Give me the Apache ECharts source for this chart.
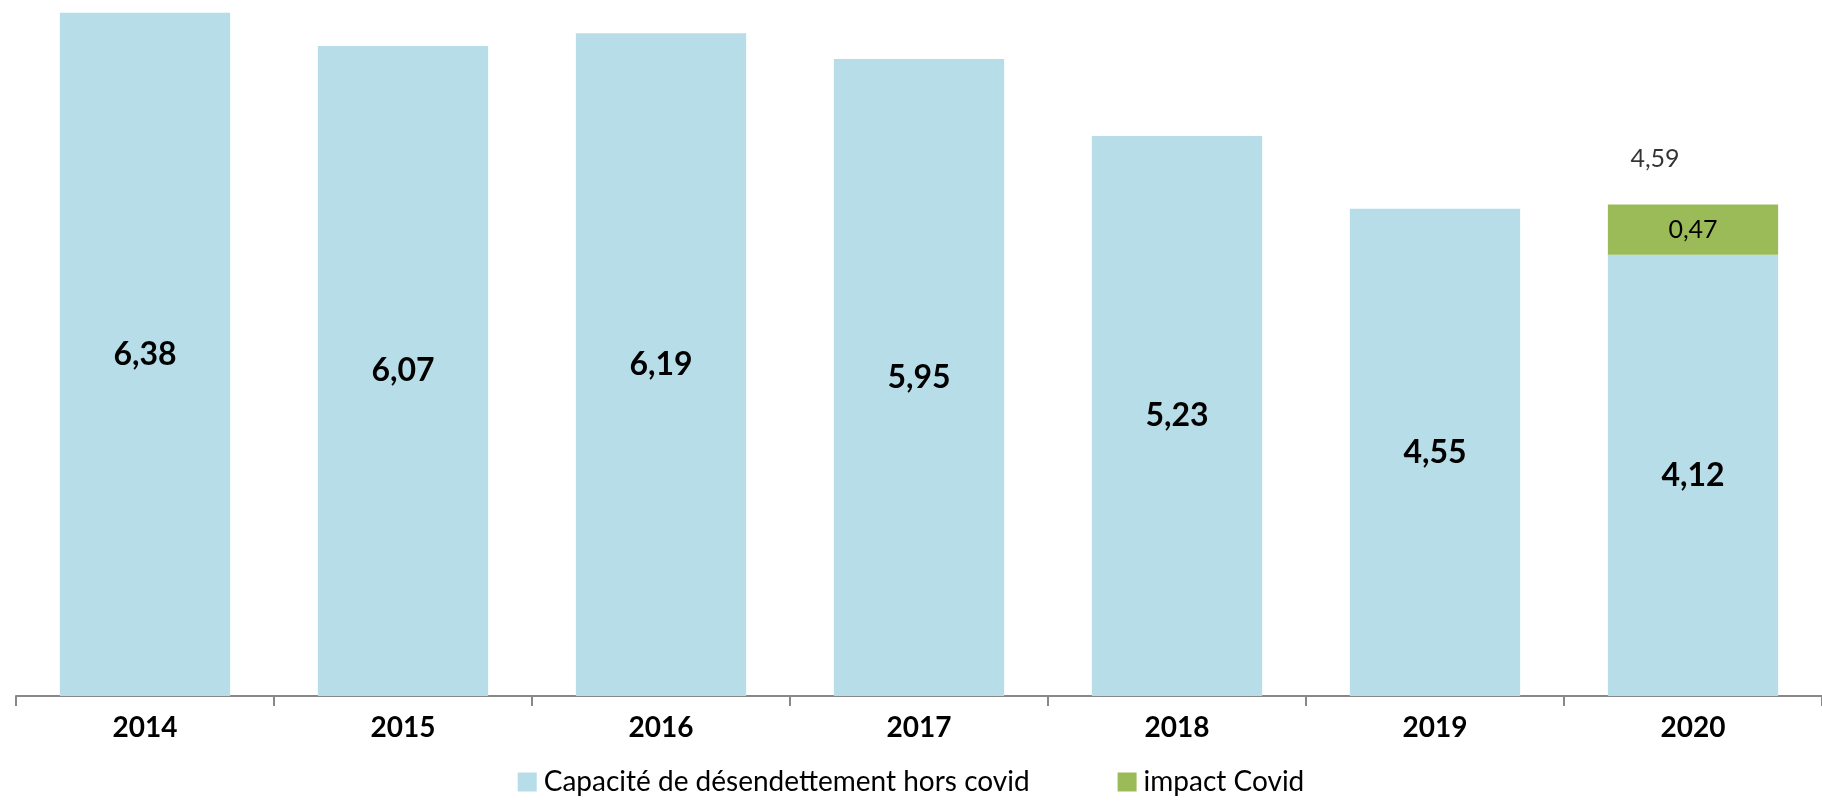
<!DOCTYPE html>
<html>
<head>
<meta charset="utf-8">
<script src="https://cdn.jsdelivr.net/npm/echarts@6/dist/echarts.min.js"></script>
<style>
  html, body { margin: 0; padding: 0; background: #fff; }
  #chart { width: 1822px; height: 803px; }
</style>
</head>
<body>
<div id="chart"></div>
<script>
var years = ['2014', '2015', '2016', '2017', '2018', '2019', '2020']
var horsCovid = [6.38, 6.07, 6.19, 5.95, 5.23, 4.55, 4.12]
var impactCovid = [null, null, null, null, null, null, 0.47]
var totals = [null, null, null, null, null, null, 4.59]

function fr(v) {
  return v.toFixed(2).replace('.', ',')
}

var font = 'Lato, "Open Sans", sans-serif'

var option = {
  animation: false,
  textStyle: { fontFamily: font },
  grid: {
    left: 16,
    right: 0,
    top: 0,
    bottom: 107
  },
  legend: {
    bottom: 2,
    left: 'center',
    itemWidth: 19,
    itemHeight: 19,
    itemGap: 88,
    icon: 'rect',
    textStyle: { fontSize: 28, color: '#000', fontFamily: font, padding: [0, 0, 0, 2] },
    data: ['Capacité de désendettement hors covid', 'impact Covid']
  },
  xAxis: {
    type: 'category',
    data: years,
    axisLine: { show: true, lineStyle: { color: '#888', width: 2 } },
    axisTick: { show: true, interval: 0, length: 10, lineStyle: { color: '#888', width: 2 } },
    axisLabel: {
      color: '#000',
      fontWeight: 'bold',
      fontSize: 28,
      margin: 18,
      fontFamily: font
    }
  },
  yAxis: {
    type: 'value',
    min: 0,
    max: 6.5,
    show: false,
    splitLine: { show: false }
  },
  series: [
    {
      name: 'Capacité de désendettement hors covid',
      type: 'bar',
      stack: 'total',
      data: horsCovid,
      barCategoryGap: '34%',
      itemStyle: { color: '#B7DDE8' },
      label: {
        show: true,
        position: 'inside',
        color: '#000',
        fontWeight: 'bold',
        fontSize: 32,
        fontFamily: font,
        formatter: function(p) { return fr(p.value) }
      }
    },
    {
      name: 'impact Covid',
      type: 'bar',
      stack: 'total',
      data: impactCovid,
      itemStyle: { color: '#9BBB59' },
      label: {
        show: true,
        position: 'inside',
        color: '#000',
        fontSize: 25,
        fontFamily: font,
        formatter: function(p) { return fr(p.value) }
      }
    },
    {
      name: 'total',
      type: 'scatter',
      data: totals,
      symbolSize: 0,
      silent: true,
      label: {
        show: true,
        position: 'top',
        distance: 33,
        offset: [-38, 0],
        color: '#000',
        fontSize: 25,
        fontFamily: font,
        formatter: function(p) { return fr(p.value) }
      }
    }
  ]
}

var myChart = echarts.init(document.getElementById('chart'))
myChart.setOption(option)
</script>
</body>
</html>
